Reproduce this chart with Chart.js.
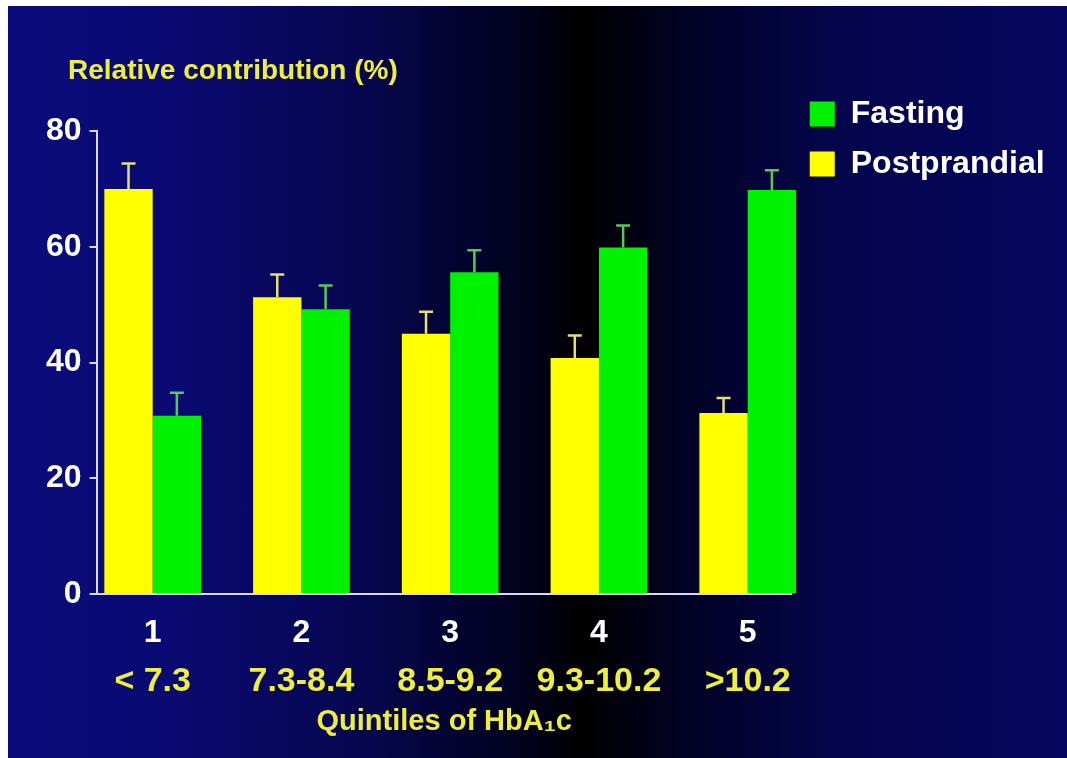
<!DOCTYPE html>
<html>
<head>
<meta charset="utf-8">
<script src="https://cdn.jsdelivr.net/npm/chart.js@4.4.1/dist/chart.umd.min.js"></script>
<style>
  html, body { margin: 0; padding: 0; background: #fff; }
  #wrap { position: relative; width: 1067px; height: 758px; overflow: hidden; }
  #bg {
    position: absolute; left: 8px; top: 6px; right: 0; bottom: 0;
    background: linear-gradient(to right, #0b0b7c 0%, #0a0a74 14%, #06064e 34%, #010118 50%, #000000 54%, #020224 64%, #05054c 78%, #060660 100%);
  }
  #chart { position: absolute; left: 0; top: 0; }
</style>
</head>
<body>
<div id="wrap">
  <div id="bg"></div>
  <canvas id="chart" width="1067" height="758"></canvas>
</div>
<script>
// --- Dados ---
const quintiles = ['1', '2', '3', '4', '5'];
const hba1cRanges = ['< 7.3', '7.3-8.4', '8.5-9.2', '9.3-10.2', '>10.2'];
const postprandial = [70, 51.3, 45, 40.8, 31.3];
const postprandialErr = [4.4, 3.9, 3.8, 3.9, 2.6];
const fasting = [30.8, 49.2, 55.6, 59.9, 69.8];
const fastingErr = [4.0, 4.1, 3.8, 3.8, 3.4];
const yTicks = [0, 20, 40, 60, 80];

const positions = quintiles.map(Number);
const FONT = "'Liberation Sans', Arial, sans-serif";
const YELLOW_TEXT = '#eeee3c';
const AXIS = '#d8d8f4';

function pontos(vals) {
    return vals.map((v, i) => ({x: positions[i], y: v}));
}

// --- Barras de erro (só o lado de cima) ---
const errorBars = {
    id: 'errorBars',
    afterDatasetsDraw(chart) {
        const ctx = chart.ctx;
        const yScale = chart.scales.y;
        chart.data.datasets.forEach((ds, di) => {
            const meta = chart.getDatasetMeta(di);
            meta.data.forEach((bar, i) => {
                const top = yScale.getPixelForValue(ds.data[i].y + ds.errors[i]);
                ctx.save();
                ctx.strokeStyle = ds.errorColor;
                ctx.lineWidth = 2.5;
                ctx.beginPath();
                ctx.moveTo(bar.x, bar.y);
                ctx.lineTo(bar.x, top);
                ctx.moveTo(bar.x - 7, top);
                ctx.lineTo(bar.x + 7, top);
                ctx.stroke();
                ctx.restore();
            });
        });
    }
};

// --- Rótulo do eixo y (horizontal, em cima) ---
const yLabel = {
    id: 'yLabel',
    afterDraw(chart) {
        const ctx = chart.ctx;
        ctx.save();
        ctx.font = 'bold 28px ' + FONT;
        ctx.fillStyle = YELLOW_TEXT;
        ctx.textBaseline = 'middle';
        ctx.fillText('Relative contribution (%)', 68, 71);
        ctx.restore();
    }
};

const xRange = {min: 0.623, max: 5.296};

new Chart(document.getElementById('chart'), {
    type: 'bar',
    data: {
        datasets: [
            {
                label: 'Postprandial',
                data: pontos(postprandial),
                errors: postprandialErr,
                errorColor: '#e6e070',
                backgroundColor: '#ffff00',
                borderWidth: 0,
                clip: false
            },
            {
                label: 'Fasting',
                data: pontos(fasting),
                errors: fastingErr,
                errorColor: '#58c858',
                backgroundColor: '#00f200',
                borderWidth: 0,
                clip: false
            }
        ]
    },
    options: {
        responsive: false,
        animation: false,
        categoryPercentage: 0.65,
        barPercentage: 1,
        layout: { padding: { top: 80, left: 38, right: 24, bottom: 19 } },
        scales: {
            x: {
                type: 'linear',
                position: 'bottom',
                offset: false,
                min: xRange.min,
                max: xRange.max,
                afterBuildTicks: s => { s.ticks = positions.map(v => ({value: v})); },
                ticks: {
                    color: '#ffffff',
                    font: { family: FONT, size: 32, weight: 'bold', lineHeight: 1 },
                    padding: 0,
                    maxRotation: 0,
                    autoSkip: false,
                    callback: (v, i) => quintiles[i]
                },
                // grade escondida; tickLength só dá o espaço até os rótulos
                grid: { display: false, drawTicks: true, tickLength: 23 },
                border: { color: AXIS, width: 2 }
            },
            x2: {
                type: 'linear',
                position: 'bottom',
                offset: false,
                min: xRange.min,
                max: xRange.max,
                afterBuildTicks: s => { s.ticks = positions.map(v => ({value: v})); },
                ticks: {
                    color: YELLOW_TEXT,
                    font: { family: FONT, size: 34, weight: 'bold', lineHeight: 1 },
                    padding: 0,
                    maxRotation: 0,
                    autoSkip: false,
                    callback: (v, i) => hba1cRanges[i]
                },
                grid: { display: false, drawTicks: true, tickLength: 15 },
                border: { display: false },
                title: {
                    display: true,
                    text: 'Quintiles of HbA\u2081c',
                    color: YELLOW_TEXT,
                    font: { family: FONT, size: 29, weight: 'bold' },
                    padding: { top: 6, bottom: 0 }
                }
            },
            y: {
                min: 0,
                max: 80,
                afterBuildTicks: s => { s.ticks = yTicks.map(v => ({value: v})); },
                ticks: {
                    color: '#ffffff',
                    font: { family: FONT, size: 32, weight: 'bold' },
                    padding: 8
                },
                grid: { drawOnChartArea: false, color: AXIS, lineWidth: 2, tickLength: 7 },
                border: { color: AXIS, width: 2 }
            }
        },
        plugins: {
            // espaço em branco acima da área do gráfico (a legenda começa mais alto)
            title: { display: true, text: '', fullSize: false, font: { size: 20 }, padding: { top: 0, bottom: 27 } },
            legend: {
                position: 'right',
                align: 'start',
                reverse: true,
                labels: {
                    color: '#ffffff',
                    font: { family: FONT, size: 32, weight: 'bold' },
                    boxWidth: 25,
                    boxHeight: 25,
                    padding: 18
                }
            },
            tooltip: { enabled: false }
        }
    },
    plugins: [errorBars, yLabel]
});
</script>
</body>
</html>
